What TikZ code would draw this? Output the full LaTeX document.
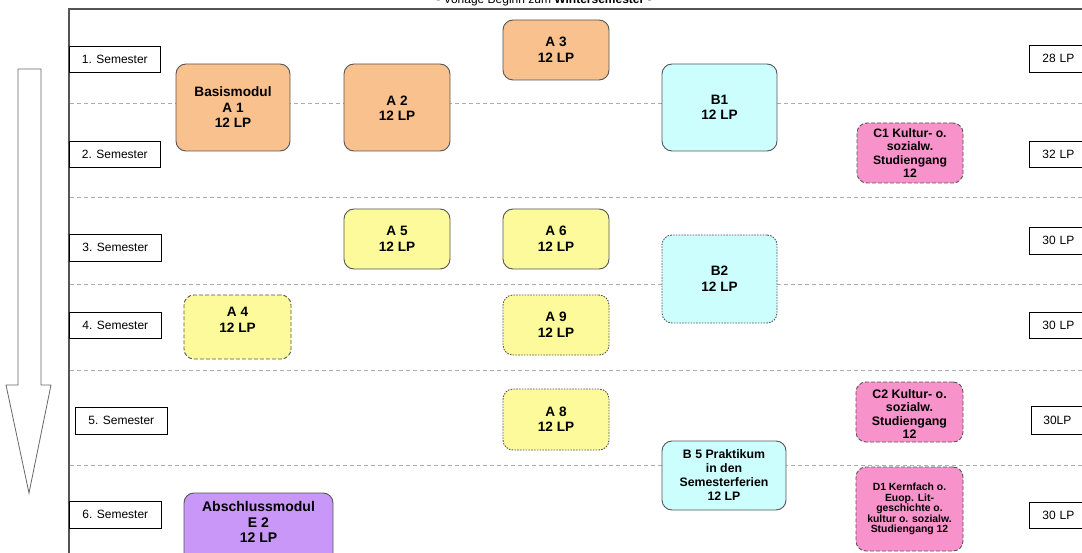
\documentclass[tikz,border=0pt]{standalone}
\usepackage{fontspec}
\setmainfont{Liberation Sans}
\definecolor{orng}{HTML}{F9C18D}
\definecolor{ylw}{HTML}{FDFA9B}
\definecolor{cyn}{HTML}{CCFEFE}
\definecolor{pnk}{HTML}{F792CB}
\definecolor{prpl}{HTML}{C897F7}
\definecolor{bord}{HTML}{555555}
\tikzset{
  mod/.style={draw=bord, line width=0.9pt, rounded corners=10pt, inner sep=0pt},
  modtxt/.style={inner sep=0pt, align=center, font=\fontsize{13.6}{15.5}\selectfont\bfseries},
  semlbl/.style={draw=black, line width=0.7pt, fill=white, inner sep=0pt, anchor=north west,
    font=\fontsize{12}{13}\selectfont},
  lplbl/.style={semlbl, minimum width=60pt, text width=48pt, align=left},
  sepline/.style={draw=gray!65, line width=0.8pt, dash pattern=on 4pt off 3pt},
  dashbox/.style={dash pattern=on 4pt off 2pt},
  dotbox/.style={dash pattern=on 1.6pt off 1.2pt},
}
% name, x1, y1, x2, y2, box style, text style, text
\newcommand{\modbox}[8]{%
  \node[mod,#6, minimum width={#4-#2}, minimum height={#5-#3}] (#1) at ({(#2+#4)/2},{(#3+#5)/2}) {};
  \node[modtxt,#7] (#1t) at (#1.center) {#8};}
\begin{document}
\begin{tikzpicture}[x=1pt,y=-1pt]
\useasboundingbox (0,0) rectangle (1082,553);
% title (cut off at the top, as in the original)
\node[anchor=base, font=\fontsize{12}{14}\selectfont] (title) at (544,4) {- Vorlage Beginn zum \textbf{Wintersemester} -};
% frame
\draw[bord, line width=1.2pt] (1090,9) -- (69,9) -- (69,560);
% separators
\foreach \yy in {103,197,284,370,465} \draw[sepline] (70,\yy) -- (1090,\yy);
% arrow
\draw[gray!80!black, line width=0.8pt] (18,69) -- (41,69) -- (41,385) -- (51,385) -- (29,493) -- (6,385) -- (18,385) -- cycle;
% semester labels
\node[semlbl, minimum width=91pt, minimum height=26pt] (s1) at (69,46) {1. Semester};
\node[semlbl, minimum width=91pt, minimum height=26pt] (s2) at (69,141) {2. Semester};
\node[semlbl, minimum width=92pt, minimum height=27pt] (s3) at (69,234) {3. Semester};
\node[semlbl, minimum width=92pt, minimum height=26pt] (s4) at (69,312) {4. Semester};
\node[semlbl, minimum width=92pt, minimum height=27pt] (s5) at (75,407) {5. Semester};
\node[semlbl, minimum width=92pt, minimum height=27pt] (s6) at (69,501) {6. Semester};
% LP labels
\node[lplbl, minimum height=27pt] (l1) at (1029,45) {\hspace*{7pt}28 LP};
\node[lplbl, minimum height=26pt] (l2) at (1029,141) {\hspace*{7pt}32 LP};
\node[lplbl, minimum height=27pt] (l3) at (1029,227) {\hspace*{7pt}30 LP};
\node[lplbl, minimum height=26pt] (l4) at (1029,312) {\hspace*{7pt}30 LP};
\node[lplbl, minimum height=28pt] (l5) at (1031,406) {\hspace*{6pt}30LP};
\node[lplbl, minimum height=26pt] (l6) at (1029,502) {\hspace*{7pt}30 LP};
% modules
\modbox{a3}{503}{20}{609}{80}{fill=orng}{}{A 3\\12 LP}
\modbox{a1}{176}{64}{290}{151}{fill=orng}{}{Basismodul\\A 1\\12 LP}
\modbox{a2}{344}{64}{450}{151}{fill=orng}{yshift=-1pt}{A 2\\12 LP}
\modbox{b1}{662}{64}{777}{151}{fill=cyn}{}{B1\\12 LP}
\modbox{c1}{857}{123}{963}{183}{fill=pnk, dashbox}{font=\fontsize{12.2}{13.5}\selectfont\bfseries}{C1 Kultur- o.\\sozialw.\\Studiengang\\12}
\modbox{a5}{344}{209}{450}{269}{fill=ylw}{}{A 5\\12 LP}
\modbox{a6}{503}{209}{609}{269}{fill=ylw}{}{A 6\\12 LP}
\modbox{b2}{662}{235}{777}{323}{fill=cyn, dotbox}{}{B2\\12 LP}
\modbox{a4}{184}{295}{291}{359}{fill=ylw, dashbox}{yshift=7pt}{A 4\\12 LP}
\modbox{a9}{503}{295}{609}{355}{fill=ylw, dotbox}{}{A 9\\12 LP}
\modbox{a8}{503}{389}{609}{450}{fill=ylw, dotbox}{}{A 8\\12 LP}
\modbox{b5}{662}{441}{786}{510}{fill=cyn}{font=\fontsize{12.3}{14}\selectfont\bfseries}{B 5 Praktikum\\in den\\Semesterferien\\12 LP}
\modbox{c2}{856}{382}{963}{442}{fill=pnk, dashbox}{yshift=-2pt, font=\fontsize{12.4}{13.5}\selectfont\bfseries}{C2 Kultur- o.\\sozialw.\\Studiengang\\12}
\modbox{d1}{856}{467}{963}{551}{fill=pnk, dashbox}{font=\fontsize{10.4}{10.5}\selectfont\bfseries}{D1 Kernfach o.\\Euop. Lit-\\geschichte o.\\kultur o. sozialw.\\Studiengang 12}
\modbox{e2}{184}{493}{333}{575}{fill=prpl}{yshift=12pt, font=\fontsize{14}{15.5}\selectfont\bfseries}{Abschlussmodul\\E 2\\12 LP}
\end{tikzpicture}
\end{document}
